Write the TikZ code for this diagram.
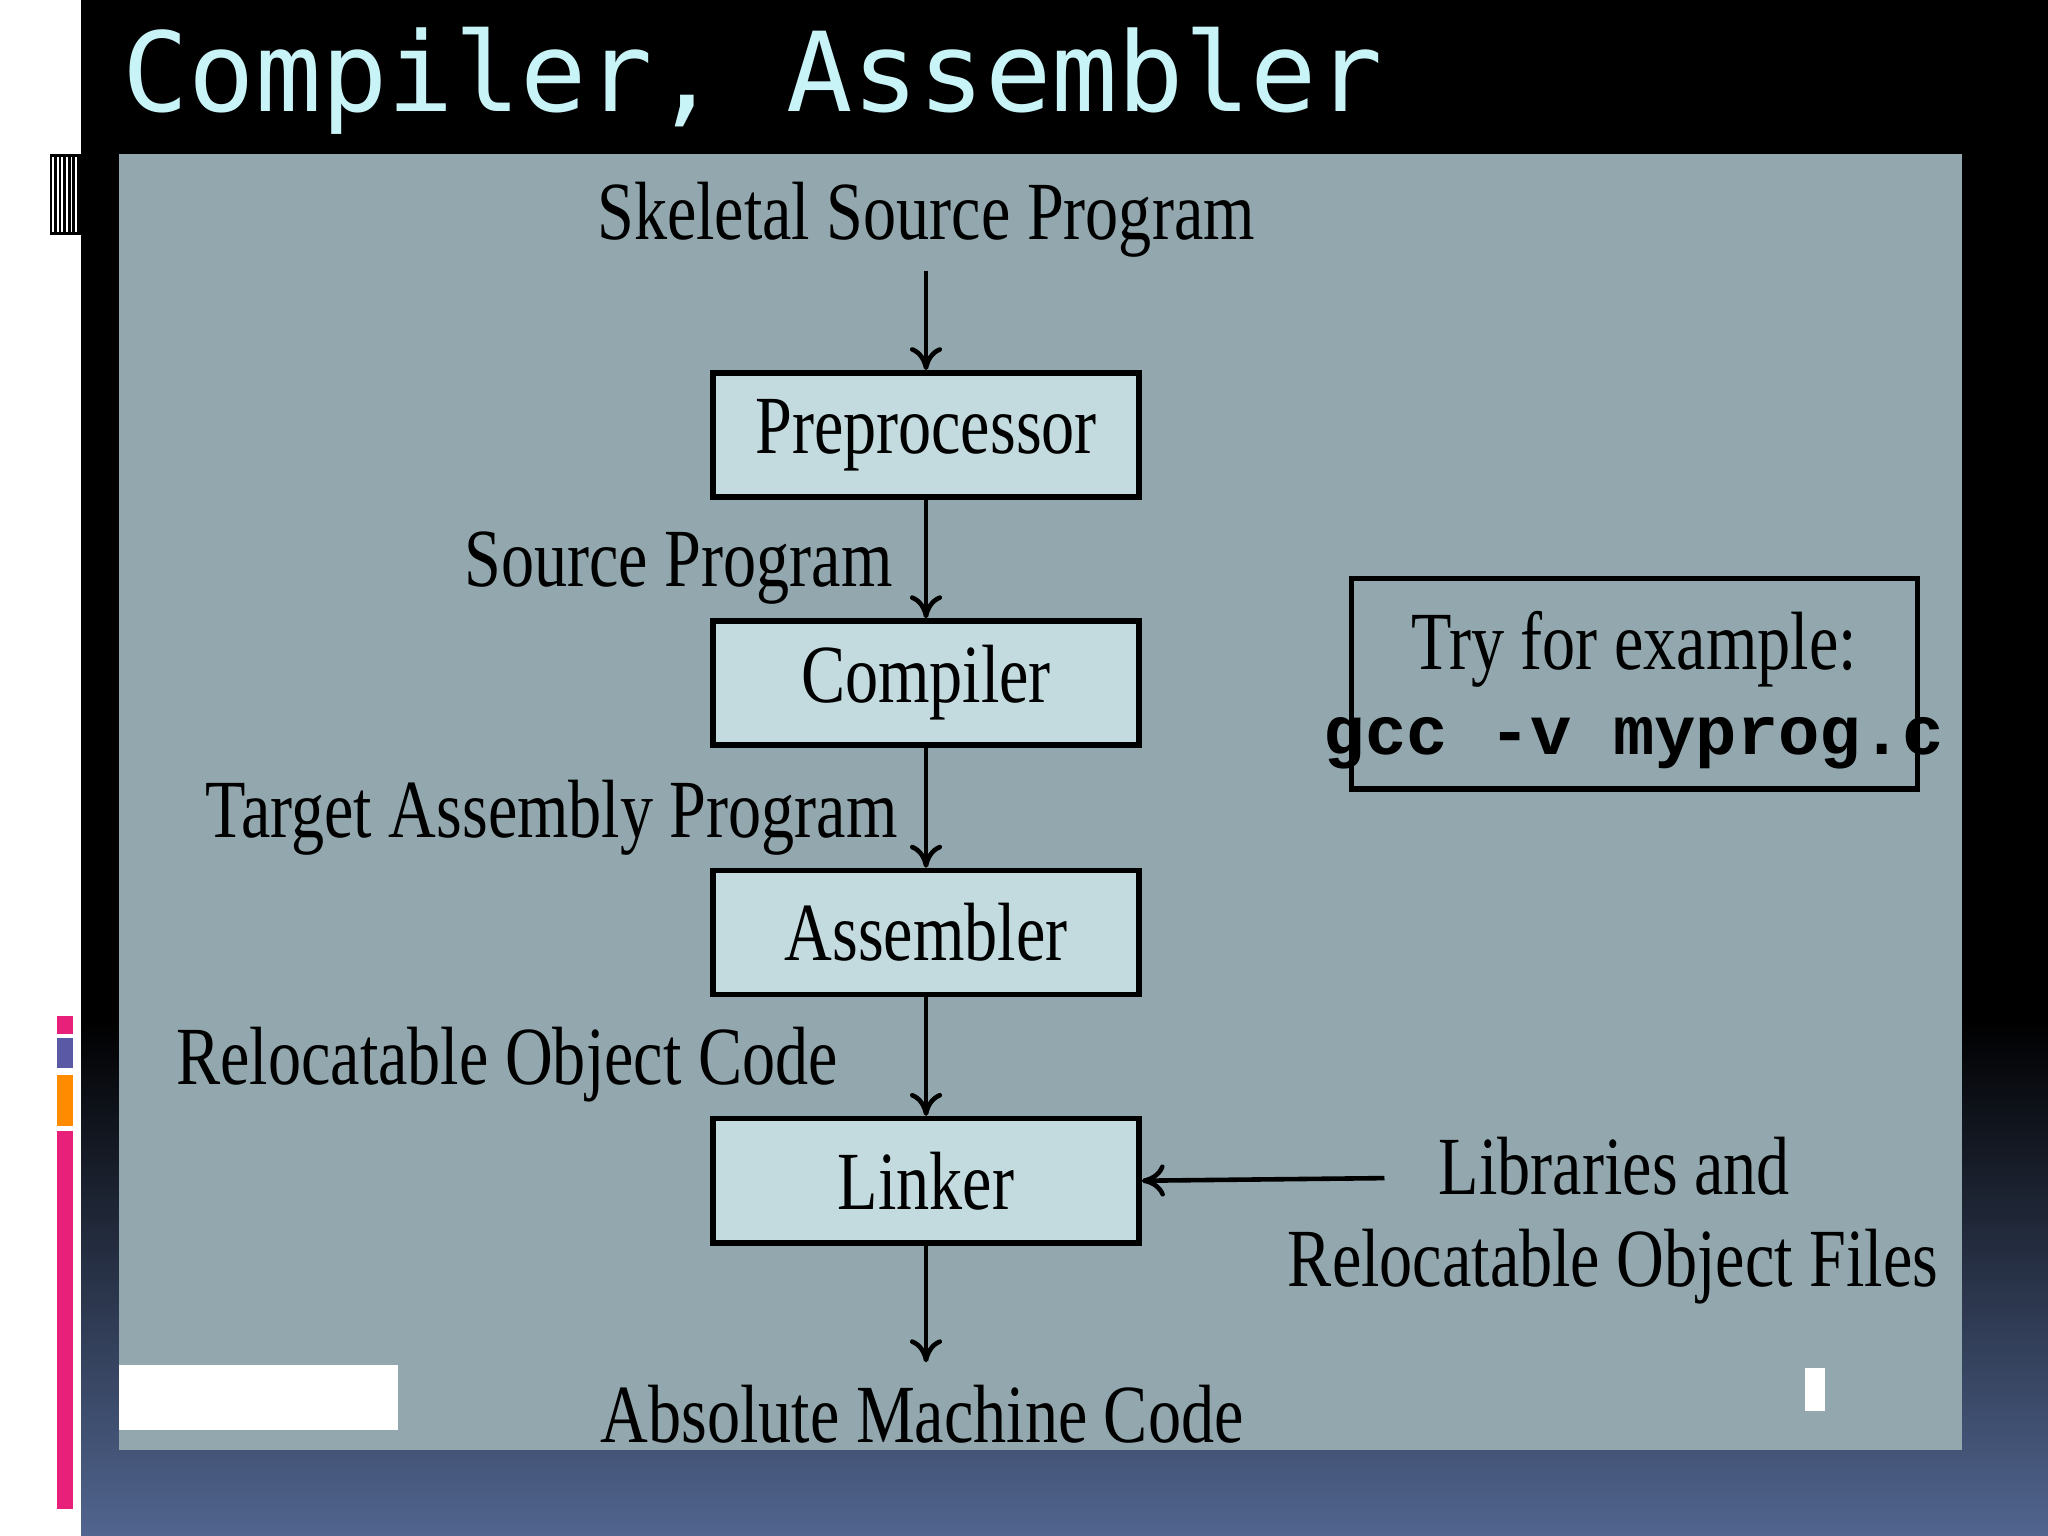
\documentclass[tikz,border=0pt]{standalone}
\usepackage{fontspec}
\usepackage{graphicx}
\setmainfont{Liberation Serif}
\newfontfamily\titlefont{DejaVu Sans Mono}
\newfontfamily\codefont{Liberation Mono}
\usetikzlibrary{arrows.meta}
\definecolor{panel}{HTML}{93A8AE}
\definecolor{boxc}{HTML}{C3DBDF}
\definecolor{titlec}{HTML}{C8F4F8}
\definecolor{bgbot}{HTML}{51658F}
\definecolor{pinkc}{HTML}{E8207A}
\newcommand\cx[1]{\scalebox{0.8}[1]{#1}}
\tikzset{
  stage/.style={draw=black, line width=1.2pt, fill=boxc, minimum width=3.26cm, minimum height=0.95cm, inner sep=0pt, font=\fontsize{18}{20}\selectfont},
  lbl/.style={inner sep=0pt, font=\fontsize{18}{20}\selectfont},
  flow/.style={-{To[length=5pt,width=7pt]}, line width=1pt}
}
\begin{document}
\begin{tikzpicture}[x=0.01cm,y=-0.01cm]
\useasboundingbox (0,0) rectangle (1568,1176);
\fill[black] (0,0) rectangle (1568,780);
\shade[top color=black, bottom color=bgbot] (0,780) rectangle (1568,1176);
\fill[white] (0,0) rectangle (62,1176);
\fill[black] (38,118) rectangle (62,180);
\foreach \i in {0,...,5}{\fill[white] (40+\i*3.5,120) rectangle (41.5+\i*3.5,178);}
\fill[pinkc] (44,778) rectangle (56,792);
\fill[gray!70!blue] (44,795) rectangle (56,818);
\fill[orange!90!yellow] (44,823) rectangle (56,862);
\fill[pinkc] (44,866) rectangle (56,1155);
\node[anchor=west, inner sep=0pt, text=titlec, font=\titlefont\fontsize{24}{26}\selectfont] (title) at (93,62) {Compiler, Assembler};
\fill[panel] (91,118) rectangle (1502,1110);
\fill[white] (91,1045) rectangle (305,1095);
\fill[white] (1382,1047) rectangle (1397,1080);
\node[stage] (pre) at (709,333) {\cx{Preprocessor}};
\node[stage] (comp) at (709,523) {\cx{Compiler}};
\node[stage] (asm) at (709,714) {\cx{Assembler}};
\node[stage] (link) at (709,904) {\cx{Linker}};
\node[lbl] (src) at (709,168) {\cx{Skeletal Source Program}};
\node[lbl] (out) at (706,1083) {\cx{Absolute Machine Code}};
\node[lbl, anchor=east] (l1) at (684,435) {\cx{Source Program}};
\node[lbl, anchor=east] (l2) at (688,626) {\cx{Target Assembly Program}};
\node[lbl, anchor=east] (l3) at (642,815) {\cx{Relocatable Object Code}};
\node[lbl] (lib1) at (1236,893) {\cx{Libraries and}};
\node[lbl] (lib2) at (1235,970) {\cx{Relocatable Object Files}};
\coordinate (libs) at (1060,902);
\draw[flow] (src.south -| pre.north) ++(0,10) -- (pre.north);
\draw[flow] (pre) -- (comp);
\draw[flow] (comp) -- (asm);
\draw[flow] (asm) -- (link);
\draw[flow] (link.south) -- (709,1043);
\draw[flow] (libs) -- (link.east);
\node[draw=black, line width=1.2pt, minimum width=4.33cm, minimum height=1.61cm] (try) at (1251.5,523.5) {};
\node[lbl] (t1) at (1251,497) {\cx{Try for example:}};
\node[inner sep=0pt, font=\codefont\bfseries\fontsize{15}{17}\selectfont] (t2) at (1251,569) {gcc -v myprog.c};
\end{tikzpicture}
\end{document}
